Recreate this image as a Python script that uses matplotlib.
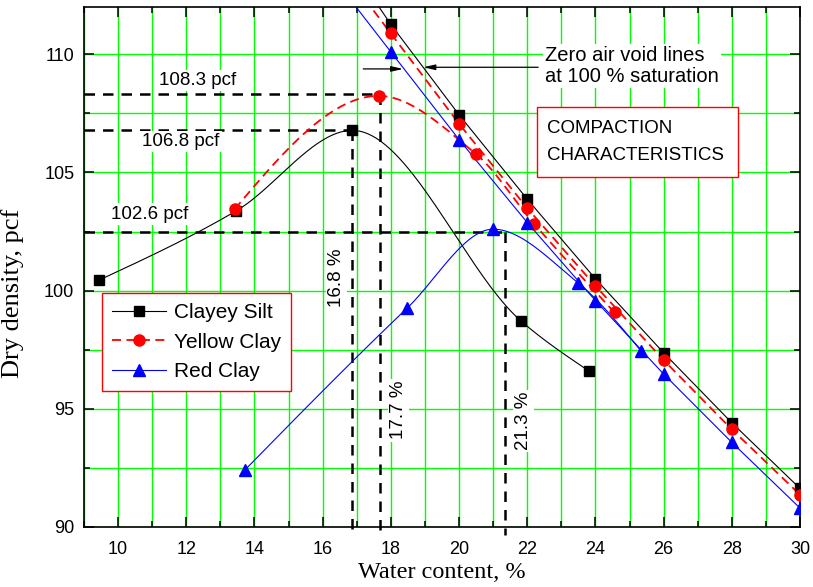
import numpy as np
import matplotlib
matplotlib.use("Agg")
import matplotlib.pyplot as plt
from matplotlib.lines import Line2D
from matplotlib.patches import Rectangle

# compaction test points (water content %, dry density pcf)
silt_w = [9.45, 13.47, 16.87, 21.83, 23.81]
silt_d = [100.45, 103.38, 106.78, 98.70, 96.60]
yellow_w = [13.42, 17.64, 20.49, 22.2, 24.56]
yellow_d = [103.45, 108.24, 105.79, 102.83, 99.08]
red_w = [13.71, 18.47, 21.0, 23.48, 25.33]
red_d = [92.4, 99.25, 102.6, 100.34, 97.46]

# zero air void lines (first point is off the top of the chart)
zav_w = [17, 18, 20, 22, 24, 26, 28, 30]
zav_silt = [113.4, 111.26, 107.44, 103.87, 100.5, 97.37, 94.41, 91.63]
zav_yellow = [112.79, 110.88, 107.06, 103.49, 100.2, 97.06, 94.13, 91.37]
zav_red = [111.96, 110.1, 106.39, 102.88, 99.58, 96.47, 93.58, 90.8]

# optimum values
opt_w = [16.87, 17.68, 21.35]
opt_d = [106.8, 108.3, 102.5]
opt_w_text = ["16.8 %", "17.7 %", "21.3 %"]
opt_d_text = ["106.8 pcf", "108.3 pcf", "102.6 pcf"]

SANS = "Liberation Sans"
SERIF = "Liberation Serif"


def smooth(x, y, xs):
    # monotone hermite inside, natural-like ends
    x = np.asarray(x, float)
    y = np.asarray(y, float)
    h = np.diff(x)
    d = np.diff(y) / h
    n = len(x)
    m = np.zeros(n)
    for k in range(1, n - 1):
        if d[k - 1] * d[k] > 0:
            w1 = 2 * h[k] + h[k - 1]
            w2 = h[k] + 2 * h[k - 1]
            m[k] = (w1 + w2) / (w1 / d[k - 1] + w2 / d[k])
    m[0] = (3 * d[0] - m[1]) / 2
    m[-1] = (3 * d[-1] - m[-2]) / 2
    xs = np.asarray(xs, float)
    i = np.clip(np.searchsorted(x, xs) - 1, 0, n - 2)
    t = (xs - x[i]) / h[i]
    h00 = 2 * t**3 - 3 * t**2 + 1
    h10 = t**3 - 2 * t**2 + t
    h01 = -2 * t**3 + 3 * t**2
    h11 = t**3 - t**2
    return h00 * y[i] + h10 * h[i] * m[i] + h01 * y[i + 1] + h11 * h[i] * m[i + 1]


fig = plt.figure(figsize=(8.13, 5.87), dpi=100)
ax = fig.add_axes([84 / 813, 1 - 527 / 587, 716 / 813, 520 / 587])

series = [
    (silt_w, silt_d, zav_silt, "black", "s", 7, "-", "Clayey Silt"),
    (yellow_w, yellow_d, zav_yellow, "red", "o", 8, (0, (5, 3)), "Yellow Clay"),
    (red_w, red_d, zav_red, "blue", "^", 8.5, "-", "Red Clay"),
]
handles = []
for w, d, zav, col, mk, ms, ls, name in series:
    lw = 1.3 if col == "red" else 0.8
    ws = np.linspace(w[0], w[-1], 300)
    ax.plot(ws, smooth(w, d, ws), color=col, lw=lw, ls=ls, zorder=4)
    ax.plot(zav_w, zav, color=col, lw=lw, ls=ls, zorder=4)
    ax.plot(w, d, ls="none", marker=mk, ms=ms, color=col, zorder=5)
    ax.plot(zav_w[1:], zav[1:], ls="none", marker=mk, ms=ms, color=col, zorder=5)
    handles.append(Line2D([], [], color=col, lw=lw, ls=ls, marker=mk, ms=ms, label=name))

# dashed guide lines to the optimum points
dash = dict(color="black", lw=1.8, ls=(0, (4.2, 3.2)), zorder=3)
for w, d in zip(opt_w, opt_d):
    ax.plot([9, w], [d, d], **dash)
    ax.plot([w, w], [d, 89.65], clip_on=False, **dash)

wb = dict(facecolor="white", edgecolor="none", pad=1.5)
ax.text(16.41, 100.54, opt_w_text[0], rotation=90, ha="center", va="center",
        fontsize=13.5, family=SANS, bbox=wb, zorder=6)
ax.text(18.22, 94.94, opt_w_text[1], rotation=90, ha="center", va="center",
        fontsize=13.5, family=SANS, bbox=wb, zorder=6)
ax.text(21.88, 94.48, opt_w_text[2], rotation=90, ha="center", va="center",
        fontsize=13.5, family=SANS, bbox=wb, zorder=6)
ax.text(11.84, 106.31, opt_d_text[0], ha="center", va="center",
        fontsize=13.5, family=SANS, bbox=wb, zorder=6)
ax.text(12.33, 108.89, opt_d_text[1], ha="center", va="center",
        fontsize=13.5, family=SANS, bbox=wb, zorder=6)
ax.text(10.94, 103.24, opt_d_text[2], ha="center", va="center",
        fontsize=13.5, family=SANS, bbox=wb, zorder=6)

ax.text(22.52, 109.5, "Zero air void lines\nat 100 % saturation", ha="left", va="center",
        fontsize=14.5, family=SANS, linespacing=1.15, bbox=wb, zorder=6)
arrow = dict(arrowstyle="-|>,head_length=0.7,head_width=0.16", color="black", lw=0.9,
             shrinkA=0, shrinkB=0)
ax.annotate("", xy=(18.36, 109.38), xytext=(17.19, 109.38), arrowprops=arrow, zorder=6)
ax.annotate("", xy=(18.95, 109.45), xytext=(22.32, 109.45), arrowprops=arrow, zorder=6)

ax.add_patch(Rectangle((22.29, 104.79), 5.9, 2.96, facecolor="white", edgecolor="red",
                       lw=1.0, zorder=6))
ax.text(22.57, 106.88, "COMPACTION", ha="left", va="center", fontsize=13.5, family=SANS, zorder=7)
ax.text(22.57, 105.71, "CHARACTERISTICS", ha="left", va="center", fontsize=13.5, family=SANS, zorder=7)

leg = ax.legend(handles=handles, loc="upper left", bbox_to_anchor=(0.0247, 0.4506),
                borderaxespad=0, fancybox=False, framealpha=1, edgecolor="red",
                prop={"family": SANS, "size": 15}, handlelength=2.6, handletextpad=0.35,
                labelspacing=0.5, borderpad=0.5)
leg.get_frame().set_linewidth(1.0)
leg.set_zorder(8)

ax.set_xlim(9, 30)
ax.set_ylim(90, 112)
ax.set_xticks(np.arange(10, 31, 2))
ax.set_xticks(np.arange(9, 31, 1), minor=True)
ax.set_yticks(np.arange(90, 111, 5))
ax.set_yticks(np.arange(90, 112.1, 2.5), minor=True)
ax.grid(which="both", color="#00ff00", lw=1.0, zorder=0)
ax.set_axisbelow(True)
ax.tick_params(which="both", direction="in", top=True, right=True, width=1.1)
ax.tick_params(which="major", length=7, labelsize=13, pad=7)
ax.tick_params(axis="x", which="major", pad=10)
ax.tick_params(which="minor", length=4.5)
for lab in ax.get_xticklabels() + ax.get_yticklabels():
    lab.set_family(SANS)
for s in ax.spines.values():
    s.set_linewidth(1.2)

ax.set_xlabel("Water content, %", family=SERIF, fontsize=17.5, labelpad=3)
ax.set_ylabel("Dry density, pcf", family=SERIF, fontsize=19)
ax.yaxis.set_label_coords(-0.084, 0.45)

fig.savefig("out.png", dpi=100)
